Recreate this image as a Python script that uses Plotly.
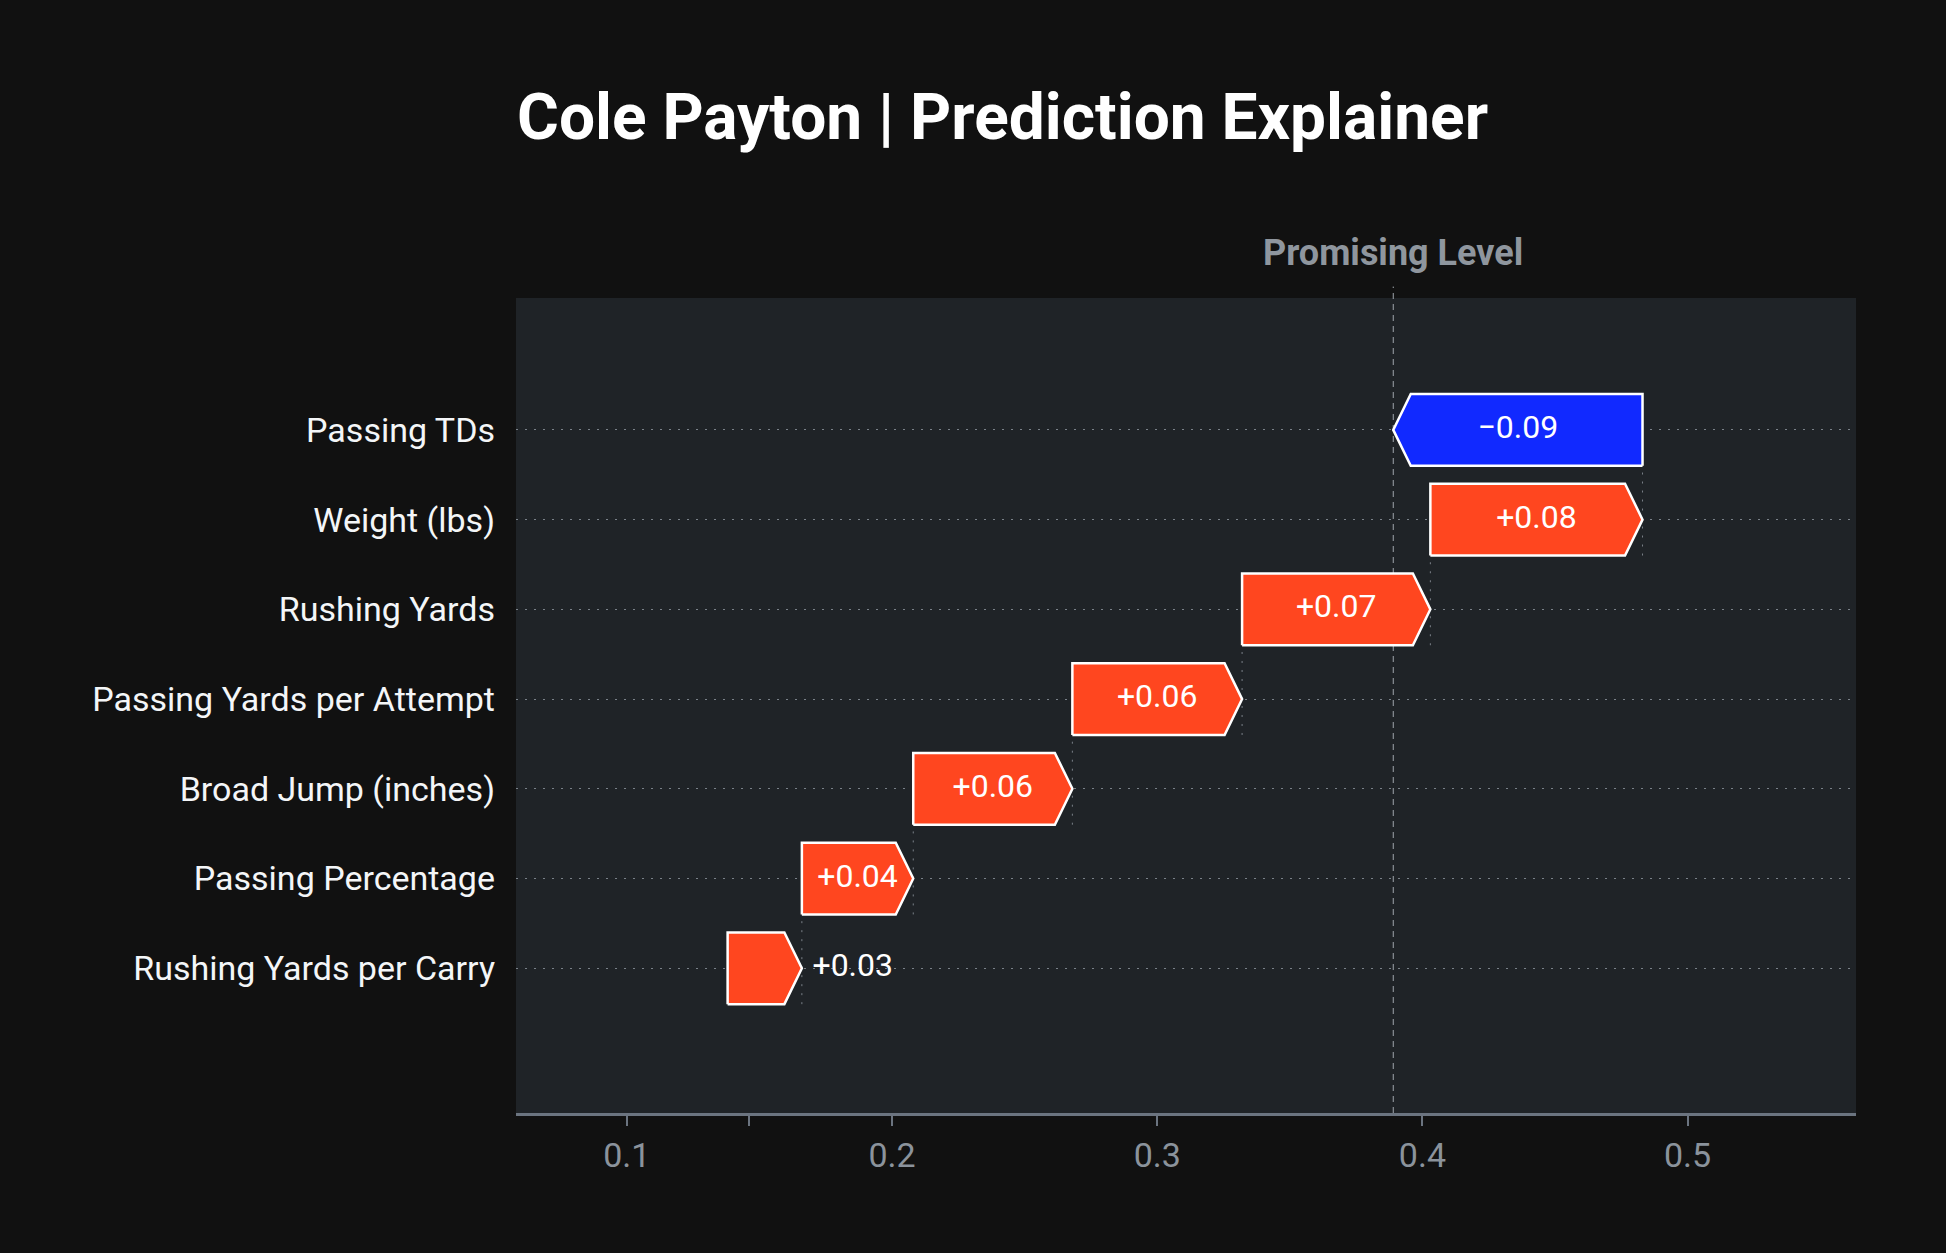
import plotly.graph_objects as go

# feature contributions, bottom row first
features = ["Rushing Yards per Carry", "Passing Percentage", "Broad Jump (inches)",
            "Passing Yards per Attempt", "Rushing Yards", "Weight (lbs)", "Passing TDs"]
contrib = [0.028, 0.042, 0.060, 0.064, 0.071, 0.080, -0.094]
base_value = 0.138
base_tick = 0.146
x_ticks = [0.1, 0.2, 0.3, 0.4, 0.5]

RED = '#ff461f'
BLUE = '#1129ff'
GRID = '#7a8189'
AXIS = '#6b7480'
LABEL_GRAY = '#8b939c'
DOTS = '2px,7px'

HALF = 0.4      # half bar height (rows)
HEAD = 0.0066   # arrow head length (x units)

fig = go.Figure()

starts = []
s = base_value
for v in contrib:
    starts.append(s)
    s += v
final_value = s

shapes = []
text_x, text_y, text_s, text_pos = [], [], [], []
for i, (st, v) in enumerate(zip(starts, contrib)):
    e = st + v
    d = HEAD if v > 0 else -HEAD
    xs = [st, e - d, e, e - d, st, st]
    ys = [i - HALF, i - HALF, i, i + HALF, i + HALF, i - HALF]
    fig.add_trace(go.Scatter(
        x=xs, y=ys, mode='lines', fill='toself',
        fillcolor=RED if v > 0 else BLUE,
        line=dict(color='white', width=2.5),
        hoverinfo='skip', showlegend=False,
    ))
    label = f"{v:+.2f}".replace('-', '\u2212')
    if abs(v) < 0.035:
        text_x.append(e + 0.004)
        text_pos.append('middle right')
    else:
        text_x.append((st + e) / 2)
        text_pos.append('middle center')
    text_y.append(i)
    text_s.append(label)
    # dotted connector at bar end
    if i < len(contrib) - 1:
        shapes.append(dict(type='line', xref='x', yref='y', x0=e, x1=e,
                           y0=i - HALF, y1=i + 1 - HALF,
                           line=dict(color=GRID, width=1, dash=DOTS), layer='below'))

fig.add_trace(go.Scatter(
    x=text_x, y=text_y, text=text_s, mode='text', textposition=text_pos,
    textfont=dict(family='Roboto', size=32, color='white'),
    hoverinfo='skip', showlegend=False,
))

# promising level line
shapes.append(dict(type='line', xref='x', yref='paper', x0=final_value, x1=final_value,
                   y0=0, y1=1.014, line=dict(color='#a0a6ad', width=1, dash='6px,5px'),
                   layer='below'))

fig.update_layout(
    width=1946, height=1253,
    paper_bgcolor='#111111',
    plot_bgcolor='#1f2327',
    margin=dict(l=516, r=90, t=298, b=140),
    font=dict(family='Roboto', color='white'),
    title=dict(text='<b>Cole Payton | Prediction Explainer</b>',
               font=dict(family='Roboto', size=64, color='white'),
               x=517 / 1946, xanchor='left', xref='container',
               y=1 - 117 / 1253, yanchor='middle', yref='container'),
    xaxis=dict(
        range=[0.0582, 0.5635],
        tickvals=[x_ticks[0], base_tick] + x_ticks[1:],
        ticktext=[str(x_ticks[0]), ''] + [str(t) for t in x_ticks[1:]],
        ticks='outside', ticklen=10, tickwidth=2, tickcolor=AXIS,
        tickfont=dict(family='Roboto', size=34, color=LABEL_GRAY),
        showgrid=False, zeroline=False,
        showline=True, linecolor=AXIS, linewidth=3,
    ),
    yaxis=dict(
        range=[-1.613, 7.47],
        tickvals=list(range(len(features))),
        ticktext=features,
        tickfont=dict(family='Roboto', size=34, color='#f4f6f8'),
        ticks='', ticklabelstandoff=20,
        showgrid=True, gridcolor=GRID, gridwidth=1, griddash=DOTS,
        zeroline=False, showline=False,
    ),
    shapes=shapes,
    annotations=[dict(text='<b>Promising Level</b>', x=final_value, xref='x',
                      y=1.055, yref='paper', yanchor='middle', xanchor='center',
                      showarrow=False,
                      font=dict(family='Roboto', size=36, color='#8f969e'))],
)

fig.write_html("out.html", config={'displayModeBar': False}, post_script=(
    "document.body.style.margin='0';"
    "document.body.style.background='#111111';"
    "document.body.style.overflow='hidden';"))
